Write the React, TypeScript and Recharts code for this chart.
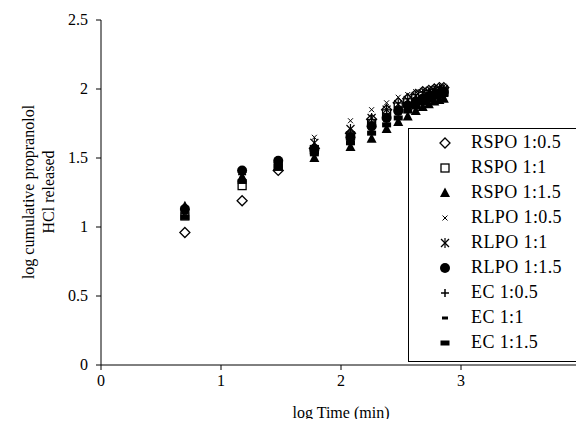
import { ScatterChart, Scatter, XAxis, YAxis } from 'recharts'

const logTime = [0.699, 1.176, 1.477, 1.778, 2.079, 2.255, 2.38, 2.477, 2.556, 2.623, 2.681, 2.732, 2.778, 2.82, 2.857]

const rspo05 = [0.96, 1.19, 1.41, 1.57, 1.68, 1.78, 1.85, 1.9, 1.93, 1.96, 1.98, 1.99, 2.0, 2.01, 2.01]
const rspo1 = [1.08, 1.3, 1.44, 1.56, 1.66, 1.75, 1.82, 1.87, 1.9, 1.93, 1.95, 1.96, 1.97, 1.98, 1.98]
const rspo15 = [1.15, 1.36, 1.44, 1.5, 1.58, 1.64, 1.71, 1.76, 1.8, 1.84, 1.87, 1.89, 1.91, 1.92, 1.93]
const rlpo05 = [1.1, 1.38, 1.47, 1.65, 1.77, 1.85, 1.9, 1.94, 1.96, 1.98, 1.99, 2.0, 2.01, 2.01, 2.02]
const rlpo1 = [1.12, 1.37, 1.46, 1.61, 1.71, 1.79, 1.85, 1.89, 1.92, 1.95, 1.97, 1.98, 1.99, 2.0, 2.0]
const rlpo15 = [1.13, 1.41, 1.48, 1.56, 1.65, 1.73, 1.79, 1.84, 1.88, 1.91, 1.93, 1.95, 1.96, 1.97, 1.98]
const ec05 = [1.12, 1.38, 1.46, 1.59, 1.68, 1.76, 1.82, 1.87, 1.9, 1.93, 1.95, 1.96, 1.97, 1.98, 1.99]
const ec1 = [1.1, 1.35, 1.45, 1.55, 1.63, 1.71, 1.77, 1.82, 1.86, 1.89, 1.92, 1.94, 1.95, 1.96, 1.97]
const ec15 = [1.07, 1.33, 1.44, 1.53, 1.61, 1.68, 1.74, 1.79, 1.84, 1.87, 1.9, 1.92, 1.94, 1.95, 1.96]

const xTicks = [0, 1, 2, 3, 4]
const yTicks = [0, 0.5, 1, 1.5, 2, 2.5]

const FONT = 'Liberation Serif, Times New Roman, serif'

type MarkerKind = 'diamond' | 'square' | 'triangle' | 'x' | 'star' | 'circle' | 'plus' | 'dash' | 'bar'

function Marker({ kind, cx, cy }: { kind: MarkerKind; cx: number; cy: number }) {
  switch (kind) {
    case 'diamond':
      return <polygon points={`${cx},${cy - 5} ${cx + 5},${cy} ${cx},${cy + 5} ${cx - 5},${cy}`} fill="#fff" stroke="#000" strokeWidth={1.3} />
    case 'square':
      return <rect x={cx - 4} y={cy - 4} width={8} height={8} fill="#fff" stroke="#000" strokeWidth={1.3} />
    case 'triangle':
      return <polygon points={`${cx},${cy - 5.5} ${cx + 5},${cy + 4} ${cx - 5},${cy + 4}`} fill="#000" />
    case 'x':
      return (
        <g stroke="#000" strokeWidth={1}>
          <line x1={cx - 2.5} y1={cy - 2.5} x2={cx + 2.5} y2={cy + 2.5} />
          <line x1={cx - 2.5} y1={cy + 2.5} x2={cx + 2.5} y2={cy - 2.5} />
        </g>
      )
    case 'star':
      return (
        <g stroke="#000" strokeWidth={1.2}>
          <line x1={cx - 4} y1={cy - 4} x2={cx + 4} y2={cy + 4} />
          <line x1={cx - 4} y1={cy + 4} x2={cx + 4} y2={cy - 4} />
          <line x1={cx} y1={cy - 5} x2={cx} y2={cy + 5} />
        </g>
      )
    case 'circle':
      return <circle cx={cx} cy={cy} r={5} fill="#000" />
    case 'plus':
      return (
        <g stroke="#000" strokeWidth={1.5}>
          <line x1={cx - 4} y1={cy} x2={cx + 4} y2={cy} />
          <line x1={cx} y1={cy - 4} x2={cx} y2={cy + 4} />
        </g>
      )
    case 'dash':
      return <rect x={cx - 3} y={cy - 1.5} width={6} height={3} fill="#000" />
    case 'bar':
      return <rect x={cx - 4.5} y={cy - 2.5} width={9} height={5} fill="#000" />
  }
}

const seriesList: { name: string; values: number[]; kind: MarkerKind }[] = [
  { name: 'RSPO 1:0.5', values: rspo05, kind: 'diamond' },
  { name: 'RSPO 1:1', values: rspo1, kind: 'square' },
  { name: 'RSPO 1:1.5', values: rspo15, kind: 'triangle' },
  { name: 'RLPO 1:0.5', values: rlpo05, kind: 'x' },
  { name: 'RLPO 1:1', values: rlpo1, kind: 'star' },
  { name: 'RLPO 1:1.5', values: rlpo15, kind: 'circle' },
  { name: 'EC 1:0.5', values: ec05, kind: 'plus' },
  { name: 'EC 1:1', values: ec1, kind: 'dash' },
  { name: 'EC 1:1.5', values: ec15, kind: 'bar' },
]

function LegendBox() {
  return (
    <div
      style={{
        position: 'absolute',
        left: 408,
        top: 128,
        width: 173,
        height: 234,
        border: '1px solid #000',
        background: '#fff',
        fontFamily: FONT,
        fontSize: 18,
        boxSizing: 'border-box',
        paddingTop: 1,
      }}
    >
      {seriesList.map((s) => (
        <div key={s.name} style={{ display: 'flex', alignItems: 'center', height: 25 }}>
          <svg width={62} height={14}>
            <Marker kind={s.kind} cx={36} cy={7} />
          </svg>
          <span style={{ letterSpacing: 0.4 }}>{s.name}</span>
        </div>
      ))}
    </div>
  )
}

function XTick({ x, y, payload }: any) {
  return (
    <text x={x} y={y + 14} textAnchor="middle" fontFamily={FONT} fontSize={16} fill="#000">
      {payload.value}
    </text>
  )
}

function YTick({ x, y, payload }: any) {
  return (
    <text x={x} y={y + 5} textAnchor="end" fontFamily={FONT} fontSize={16} fill="#000">
      {payload.value}
    </text>
  )
}

function XLabel() {
  return (
    <text x={341} y={418} textAnchor="middle" fontFamily={FONT} fontSize={16} fill="#000">
      log Time (min)
    </text>
  )
}

function YLabel() {
  const cx = 38
  const cy = 192
  return (
    <text transform={`rotate(-90, ${cx}, ${cy})`} x={cx} y={cy} textAnchor="middle" fontFamily={FONT} fontSize={16} fill="#000">
      <tspan x={cx} dy={-4}>log cumulative propranolol</tspan>
      <tspan x={cx} dy={20}>HCl released</tspan>
    </text>
  )
}

export default function App() {
  return (
    <div style={{ margin: -8, width: 584, height: 427, background: '#fff', position: 'relative', fontFamily: FONT }}>
      <ScatterChart width={584} height={427} margin={{ top: 20, right: 3, bottom: 0, left: 0 }}>
        <XAxis
          type="number"
          dataKey="x"
          domain={[0, 4]}
          ticks={xTicks}
          tickSize={5}
          tickMargin={2}
          height={62}
          stroke="#000"
          tick={<XTick />}
          label={<XLabel />}
        />
        <YAxis
          type="number"
          dataKey="y"
          domain={[0, 2.5]}
          ticks={yTicks}
          width={101}
          tickSize={5}
          tickMargin={8}
          stroke="#000"
          tick={<YTick />}
          label={<YLabel />}
        />
        {seriesList.map((s) => (
          <Scatter
            key={s.name}
            name={s.name}
            data={logTime.map((t, i) => ({ x: t, y: s.values[i] }))}
            isAnimationActive={false}
            shape={(p: any) => <Marker kind={s.kind} cx={p.cx} cy={p.cy} />}
          />
        ))}
      </ScatterChart>
      <LegendBox />
    </div>
  )
}
